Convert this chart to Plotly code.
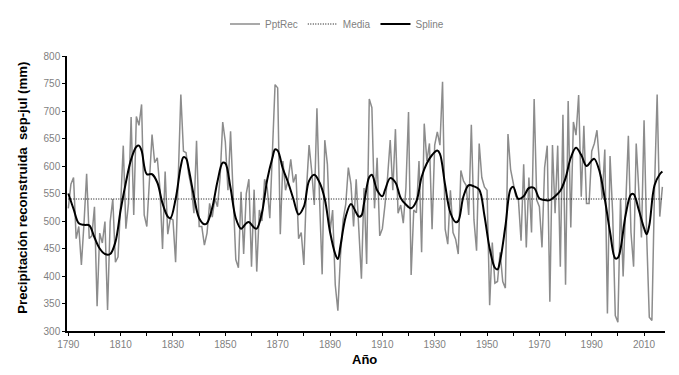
import plotly.graph_objects as go

# ---- data ----
years = list(range(1790, 2018))
ppt_rec = [
    523, 567, 579, 468, 490, 420, 496, 586, 468, 473,   # 1790s
    526, 345, 478, 460, 499, 338, 499, 540, 425, 435,   # 1800s
    530, 637, 486, 532, 689, 511, 690, 674, 712, 511,   # 1810s
    490, 570, 657, 606, 615, 560, 449, 590, 476, 505,   # 1820s
    502, 425, 575, 730, 627, 624, 585, 562, 514, 646,   # 1830s
    490, 490, 456, 478, 532, 507, 541, 526, 579, 680,   # 1840s
    644, 556, 663, 545, 430, 415, 553, 440, 550, 576,   # 1850s
    417, 557, 408, 520, 500, 576, 560, 505, 633, 748,   # 1860s
    742, 476, 609, 556, 575, 612, 570, 585, 468, 479,   # 1870s
    420, 557, 638, 591, 529, 705, 540, 403, 647, 603,   # 1880s
    480, 520, 384, 337, 437, 502, 530, 597, 567, 490,   # 1890s
    576, 480, 395, 560, 422, 722, 706, 523, 615, 473,   # 1900s
    486, 529, 580, 647, 556, 667, 514, 529, 496, 560,   # 1910s
    698, 402, 520, 515, 609, 443, 677, 609, 641, 485,   # 1920s
    638, 662, 638, 753, 485, 458, 556, 479, 467, 440,   # 1930s
    592, 573, 565, 511, 675, 502, 446, 641, 579, 562,   # 1940s
    556, 347, 461, 387, 390, 443, 390, 378, 658, 594,   # 1950s
    568, 545, 538, 464, 603, 452, 579, 479, 722, 538,   # 1960s
    526, 452, 597, 637, 353, 638, 514, 637, 417, 693,   # 1970s
    384, 718, 488, 680, 656, 729, 544, 673, 532, 532,   # 1980s
    627, 641, 665, 606, 541, 630, 332, 618, 514, 328,   # 1990s
    316, 541, 399, 530, 655, 479, 417, 641, 544, 470,   # 2000s
    683, 473, 325, 319, 560, 730, 508, 562,             # 2010s
]
media = 540

spline_years = [1790, 1792, 1794, 1796, 1798, 1800, 1802, 1804, 1806, 1808,
                1810, 1812, 1814, 1816, 1817, 1818, 1820, 1822, 1824, 1826,
                1828, 1829, 1831, 1833, 1834, 1835, 1836, 1838, 1840, 1842,
                1843, 1845, 1847, 1849, 1850, 1852, 1854, 1856, 1858, 1859,
                1861, 1862, 1864, 1866, 1868, 1869, 1870, 1872, 1874, 1876,
                1878, 1880, 1882, 1884, 1886, 1888, 1890, 1892, 1893, 1894,
                1896, 1898, 1900, 1901, 1902, 1903, 1905, 1906, 1908, 1910,
                1911, 1913, 1915, 1917, 1919, 1921, 1923, 1925, 1927, 1929,
                1931, 1932, 1934, 1936, 1938, 1939, 1941, 1943, 1945, 1947,
                1949, 1951, 1953, 1954, 1955, 1957, 1959, 1960, 1962, 1964,
                1966, 1968, 1970, 1972, 1974, 1976, 1978, 1980, 1982, 1984,
                1986, 1988, 1990, 1991, 1993, 1995, 1997, 1999, 2000, 2001,
                2003, 2005, 2006, 2008, 2010, 2011, 2012, 2014, 2016, 2017]
spline_vals = [550, 522, 496, 493, 492, 470, 450, 440, 440, 462,
               520, 570, 612, 635, 637, 628, 585, 585, 570, 532,
               508, 505, 540, 600, 616, 614, 595, 545, 505, 494,
               496, 524, 572, 606, 605, 560, 505, 486, 496, 498,
               488, 486, 515, 575, 615, 630, 628, 595, 570, 540,
               512, 526, 573, 584, 570, 540, 480, 440, 431, 455,
               508, 531, 515, 508, 510, 532, 580, 584, 556, 545,
               556, 578, 570, 542, 530, 523, 536, 580, 605, 620,
               628, 622, 565, 515, 498, 500, 545, 565, 563, 557,
               510, 450, 415, 412, 428, 490, 558, 562, 540, 545,
               560, 560, 541, 538, 538, 545, 555, 578, 615, 633,
               620, 600, 610, 613, 590, 540, 480, 432, 433, 449,
               512, 548, 549, 520, 487, 476, 492, 565, 585, 590]

tick_years = list(range(1790, 2020, 10))
tick_text = [str(y) if (y - 1790) % 20 == 0 else "" for y in tick_years]
y_ticks = list(range(300, 801, 50))

FONT = "Arial, Liberation Sans, sans-serif"

fig = go.Figure()
fig.add_trace(go.Scatter(
    x=years, y=ppt_rec, mode="lines", name="PptRec",
    line=dict(color="#8c8c8c", width=1.5)))
fig.add_trace(go.Scatter(
    x=[years[0], years[-1]], y=[media, media], mode="lines", name="Media",
    line=dict(color="#000000", width=1, dash="1px,1.5px")))
fig.add_trace(go.Scatter(
    x=spline_years, y=spline_vals, mode="lines", name="Spline",
    line=dict(color="#000000", width=2, shape="spline", smoothing=1.0)))

fig.update_layout(
    width=679, height=375,
    margin=dict(l=59, r=22, t=42, b=52),
    paper_bgcolor="white", plot_bgcolor="white",
    font=dict(family=FONT, size=10, color="#7f7f7f"),
    showlegend=True,
    legend=dict(orientation="h", x=(329 - 59) / 598, xanchor="center",
                y=1 - 16 / 375, yanchor="middle", yref="container",
                font=dict(size=10, color="#7f7f7f"),
                bgcolor="rgba(0,0,0,0)", traceorder="normal"),
    xaxis=dict(range=[1789.5, 2018], tickmode="array", tickvals=tick_years,
               ticktext=tick_text, ticks="outside", ticklen=3,
               tickcolor="black", showline=True, linecolor="black",
               linewidth=1.5, showgrid=False, zeroline=False,
               tickfont=dict(size=10, color="#7f7f7f")),
    yaxis=dict(range=[300, 800], tickmode="array", tickvals=y_ticks,
               ticks="outside", ticklen=3, tickcolor="black",
               showline=True, linecolor="black", linewidth=1.5,
               showgrid=False, zeroline=False,
               tickfont=dict(size=10, color="#7f7f7f")),
    annotations=[
        dict(text="<b>Precipitación reconstruida \u00a0sep-jul (mm)</b>",
             xref="paper", yref="paper", x=(15 - 59) / 598, y=0.521,
             xanchor="center", yanchor="middle", textangle=-90,
             showarrow=False, font=dict(family=FONT, size=13.2, color="black")),
        dict(text="<b>Año</b>", xref="paper", yref="paper",
             x=(356 - 59) / 598, y=(323 - 352) / 281,
             xanchor="center", yanchor="middle", showarrow=False,
             font=dict(family=FONT, size=13, color="black")),
    ],
)

fig.write_html("out.html")
